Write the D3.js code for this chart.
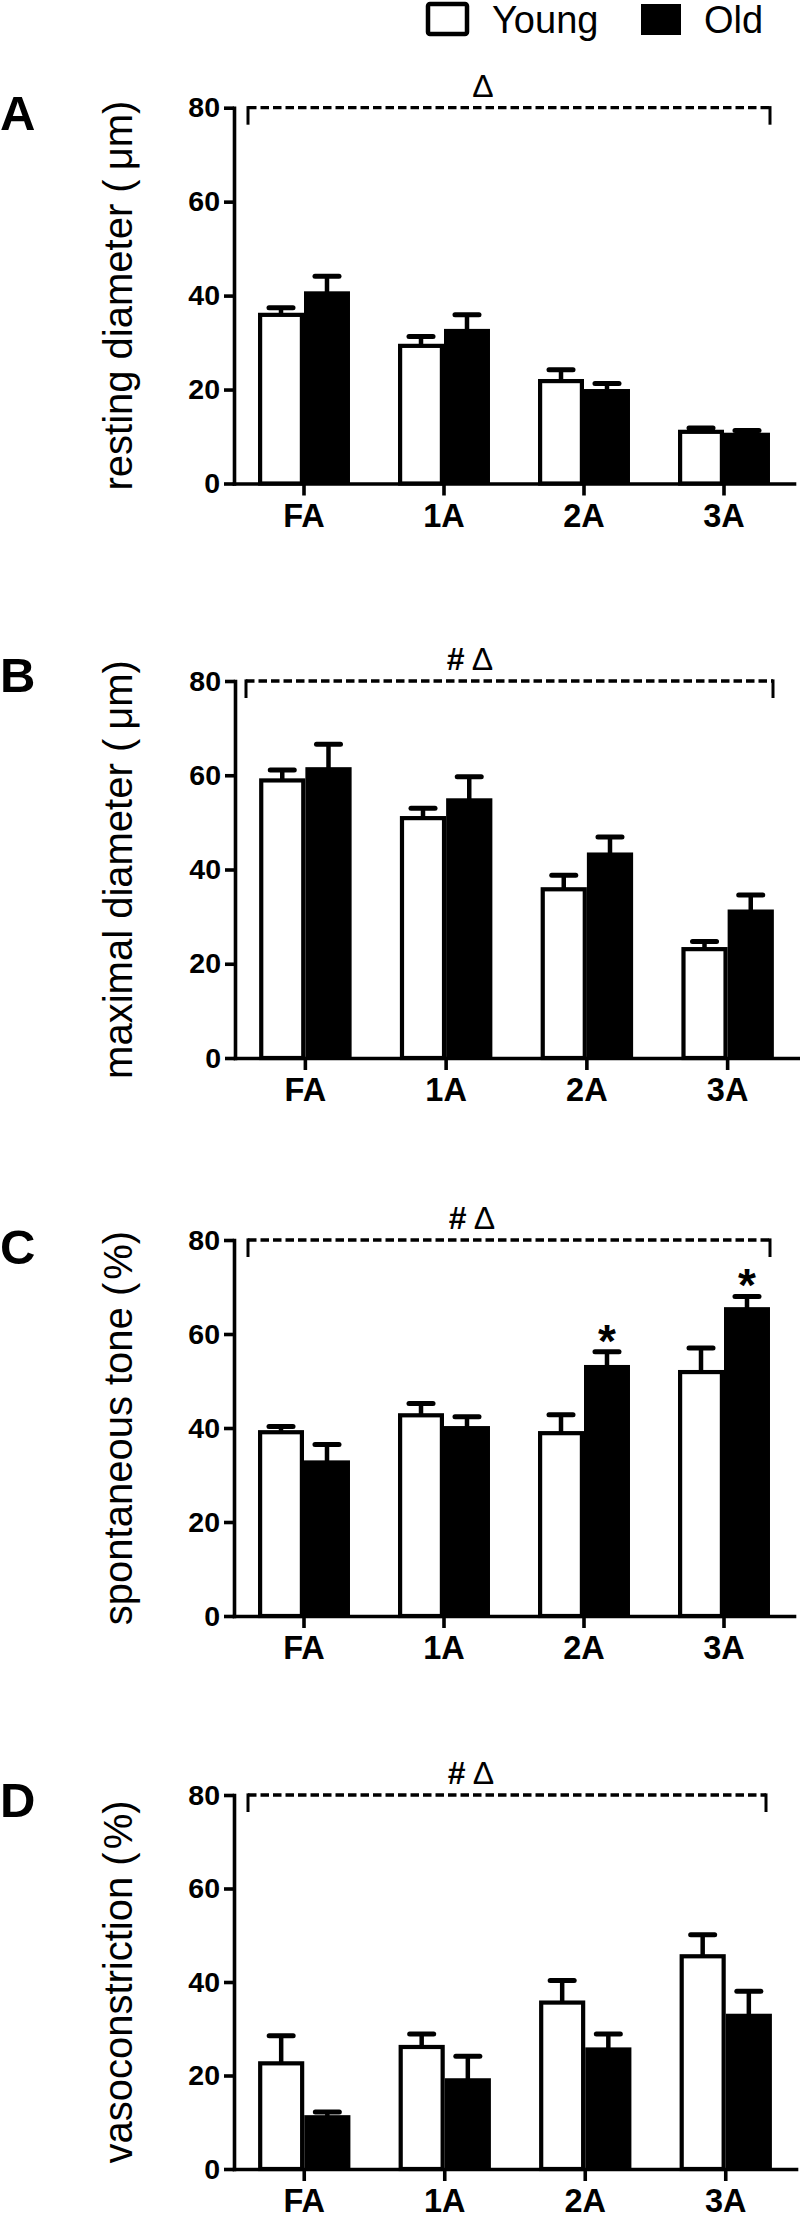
<!DOCTYPE html>
<html>
<head>
<meta charset="utf-8">
<script src="https://cdn.jsdelivr.net/npm/d3@7/dist/d3.min.js"></script>
<style>
  html, body { margin: 0; padding: 0; background: #fff; }
  svg { display: block; }
  text { font-family: "Liberation Sans", Arial, Helvetica, sans-serif; fill: #000; }
</style>
</head>
<body>
<svg id="chart" width="800" height="2219"></svg>
<script>
// ---------- DATA ----------
const categories = ["FA", "1A", "2A", "3A"];
const series = ["Young", "Old"];
const yTicks = [0, 20, 40, 60, 80];

const panelLetters = ["A", "B", "C", "D"];
// titles split so the unit can be set slightly apart, as in the original
const yTitleMain = ["resting diameter (", "maximal diameter (", "spontaneous tone (", "vasoconstriction ("];
const yTitleUnit = ["μm)", "μm)", "%)", "%)"];

// A: resting diameter
const restingYoung    = [35.9, 29.3, 21.8, 11.0];
const restingYoungErr = [1.5, 2.0, 2.4, 0.8];
const restingOld      = [40.7, 32.7, 19.9, 10.6];
const restingOldErr   = [3.4, 3.2, 1.4, 0.7];

// B: maximal diameter
const maximalYoung    = [58.9, 50.9, 35.8, 23.1];
const maximalYoungErr = [2.2, 2.1, 3.0, 1.6];
const maximalOld      = [61.5, 54.9, 43.4, 31.3];
const maximalOldErr   = [5.1, 4.8, 3.5, 3.3];

// C: spontaneous tone
const toneYoung    = [39.1, 42.7, 38.9, 51.9];
const toneYoungErr = [1.2, 2.5, 3.9, 5.1];
const toneOld      = [32.9, 40.2, 53.2, 65.5];
const toneOldErr   = [3.6, 2.2, 3.0, 2.5];
const toneOldSig   = ["", "", "*", "*"];

// D: vasoconstriction
const vasoYoung    = [22.6, 26.1, 35.6, 45.5];
const vasoYoungErr = [5.9, 2.8, 4.7, 4.6];
const vasoOld      = [11.3, 19.2, 25.8, 33.0];
const vasoOldErr   = [0.9, 4.9, 3.1, 5.0];

const noSig = ["", "", "", ""];

// overall significance annotations above each panel
const overallMarks = [["Δ"], ["#", "Δ"], ["#", "Δ"], ["#", "Δ"]];

// ---------- LAYOUT ----------
const layout = [
  { top: 107.7, bottom: 483.5, xs: 234, xe: 794, letterY: 130,  br: [248, 770], annX: 483, unitGap: 9 },
  { top: 681,   bottom: 1058,  xs: 235, xe: 798, letterY: 692,  br: [246, 773], annX: 470, unitGap: 9 },
  { top: 1240,  bottom: 1616,  xs: 234, xe: 794, letterY: 1264, br: [248, 770], annX: 472, unitGap: 3 },
  { top: 1795,  bottom: 2169,  xs: 234, xe: 796, letterY: 1817, br: [248, 766], annX: 471, unitGap: 3 }
];

const panelData = [
  [restingYoung, restingYoungErr, restingOld, restingOldErr, noSig],
  [maximalYoung, maximalYoungErr, maximalOld, maximalOldErr, noSig],
  [toneYoung, toneYoungErr, toneOld, toneOldErr, toneOldSig],
  [vasoYoung, vasoYoungErr, vasoOld, vasoOldErr, noSig]
];

const svg = d3.select("#chart");

// ---------- LEGEND ----------
const leg = svg.append("g");
leg.append("rect").attr("x", 428).attr("y", 4).attr("width", 39).attr("height", 30)
  .attr("rx", 2).attr("fill", "#fff").attr("stroke", "#000").attr("stroke-width", 4.5);
leg.append("text").attr("x", 492).attr("y", 33).attr("font-size", 38).text(series[0]);
leg.append("rect").attr("x", 641).attr("y", 4).attr("width", 40).attr("height", 31)
  .attr("fill", "#000");
leg.append("text").attr("x", 704).attr("y", 33).attr("font-size", 38).text(series[1]);

// ---------- PANELS ----------
panelData.forEach((pd, i) => {
  const L = layout[i];
  const [yv, ye, ov, oe, sig] = pd;
  const g = svg.append("g");

  const y = d3.scaleLinear().domain([0, 80]).range([L.bottom, L.top]);
  const x0 = d3.scaleBand().domain(categories).range([L.xs, L.xe])
    .paddingInner(0.343).paddingOuter(0.1715);
  const x1 = d3.scaleBand().domain(series).range([0, x0.bandwidth()]);
  const bw = x1.bandwidth();

  const rows = categories.map((c, k) => ({ c, yv: yv[k], ye: ye[k], ov: ov[k], oe: oe[k], sig: sig[k] }));

  // Panel letter
  g.append("text").attr("x", 0).attr("y", L.letterY)
    .attr("font-size", 49).attr("font-weight", "bold").text(panelLetters[i]);

  // Y title
  const tt = g.append("text")
    .attr("transform", `translate(132,${(L.top + L.bottom) / 2}) rotate(-90)`)
    .attr("text-anchor", "middle").attr("font-size", 40);
  tt.append("tspan").text(yTitleMain[i]);
  tt.append("tspan").attr("dx", L.unitGap).text(yTitleUnit[i]);

  // Young bars (outlined)
  const sw = 4.2;
  g.selectAll(".young").data(rows).join("rect")
    .attr("x", d => x0(d.c) + x1("Young") + sw / 2)
    .attr("y", d => y(d.yv))
    .attr("width", bw - sw)
    .attr("height", d => y(0) - y(d.yv))
    .attr("fill", "#fff").attr("stroke", "#000").attr("stroke-width", sw);

  // Old bars (filled)
  g.selectAll(".old").data(rows).join("rect")
    .attr("x", d => x0(d.c) + x1("Old"))
    .attr("y", d => y(d.ov) - 1)
    .attr("width", bw)
    .attr("height", d => y(0) - y(d.ov) + 1)
    .attr("fill", "#000");

  // Error bars
  const errs = [];
  rows.forEach(d => {
    errs.push({ cx: x0(d.c) + x1("Young") + bw / 2, v: d.yv, e: d.ye });
    errs.push({ cx: x0(d.c) + x1("Old") + bw / 2, v: d.ov, e: d.oe });
  });
  g.selectAll(".stem").data(errs).join("line")
    .attr("x1", d => d.cx).attr("x2", d => d.cx)
    .attr("y1", d => y(d.v)).attr("y2", d => y(d.v + d.e))
    .attr("stroke", "#000").attr("stroke-width", 4.5);
  g.selectAll(".cap").data(errs).join("line")
    .attr("x1", d => d.cx - 12).attr("x2", d => d.cx + 12)
    .attr("y1", d => y(d.v + d.e)).attr("y2", d => y(d.v + d.e))
    .attr("stroke", "#000").attr("stroke-width", 5).attr("stroke-linecap", "round");

  // Significance stars above Old bars
  g.selectAll(".sig").data(rows.filter(d => d.sig)).join("text")
    .attr("x", d => x0(d.c) + x1("Old") + bw / 2)
    .attr("y", d => y(d.ov + d.oe) + 5)
    .attr("text-anchor", "middle").attr("font-size", 46).attr("font-weight", "bold")
    .text(d => d.sig);

  // Y axis
  const ya = g.append("g").attr("transform", `translate(${L.xs},0)`)
    .call(d3.axisLeft(y).tickValues(yTicks).tickSize(10).tickPadding(4).tickSizeOuter(0));
  // X axis
  const xa = g.append("g").attr("transform", `translate(0,${y(0)})`)
    .call(d3.axisBottom(x0).tickSize(12).tickPadding(8).tickSizeOuter(0));

  [ya, xa].forEach(a => {
    a.select(".domain").attr("stroke", "#000").attr("stroke-width", 3.6).attr("stroke-linecap", "square");
    a.selectAll(".tick line").attr("stroke", "#000").attr("stroke-width", 3.6);
    a.selectAll(".tick text").attr("font-family", "'Liberation Sans', Arial, sans-serif")
      .attr("font-weight", "bold").attr("fill", "#000");
  });
  ya.selectAll(".tick text").attr("font-size", 28.5);
  xa.selectAll(".tick text").attr("font-size", 32.5);

  // Overall bracket
  const by = y(80);
  g.append("line").attr("x1", L.br[0]).attr("x2", L.br[1]).attr("y1", by).attr("y2", by)
    .attr("stroke", "#000").attr("stroke-width", 3.3).attr("stroke-dasharray", "8.5,4");
  [L.br[0], L.br[1]].forEach(bx => {
    g.append("line").attr("x1", bx).attr("x2", bx).attr("y1", by - 1.6).attr("y2", by + 17)
      .attr("stroke", "#000").attr("stroke-width", 3);
  });

  // Overall annotation
  const marks = overallMarks[i];
  const t = g.append("text").attr("x", L.annX).attr("y", by - 11)
    .attr("text-anchor", "middle").attr("font-size", 32);
  marks.forEach((m, k) => {
    t.append("tspan").attr("font-weight", m === "#" ? "bold" : "normal")
      .text((k > 0 ? " " : "") + m);
  });
});
</script>
</body>
</html>
